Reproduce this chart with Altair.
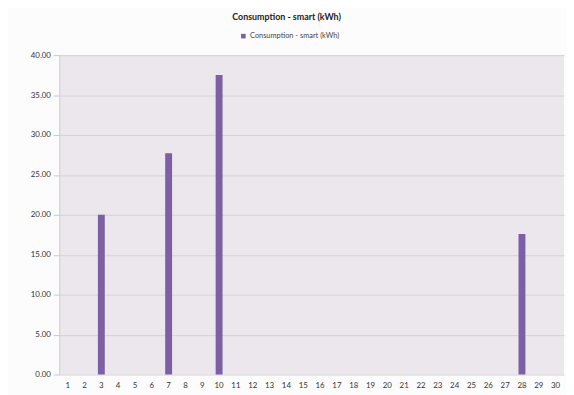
import altair as alt
import pandas as pd

days = list(range(1, 31))
consumption = [0, 0, 20.0, 0, 0, 0, 27.7, 0, 0, 37.5,
               0, 0, 0, 0, 0, 0, 0, 0, 0, 0,
               0, 0, 0, 0, 0, 0, 0, 17.6, 0, 0]
series_name = "Consumption - smart (kWh)"
y_ticks = [0, 5, 10, 15, 20, 25, 30, 35, 40]

df = pd.DataFrame({"day": days, "value": consumption, "series": series_name})

chart = alt.Chart(df).mark_bar(size=7).encode(
    x=alt.X("day:O", scale=alt.Scale(domain=days),
            axis=alt.Axis(title=None, labelAngle=0, labelFontSize=8, labelColor="#333333",
                          ticks=False, domain=False, labelPadding=7, labelFont="Lato")),
    y=alt.Y("value:Q", scale=alt.Scale(domain=[0, 40], nice=False),
            axis=alt.Axis(title=None, values=y_ticks, format=".2f", labelFontSize=8,
                          labelColor="#333333", labelFont="Lato", tickSize=6,
                          tickColor="#c8c8c8", gridColor="#d6d2d7", domainColor="#d0cdd0",
                          labelPadding=3)),
    color=alt.Color("series:N", scale=alt.Scale(range=["#7d5fa6"]),
                    legend=alt.Legend(title=None, orient="none", legendX=183, legendY=-23,
                                      symbolType="square", symbolSize=22, labelFontSize=7.5,
                                      labelFont="Lato", labelColor="#444444", padding=0,
                                      labelOffset=3, symbolStrokeWidth=0)),
).properties(
    width=512,
    height=324,
    title=alt.TitleParams(series_name, anchor="start", dx=205, offset=11, fontSize=9,
                          font="Lato", fontWeight="bold", color="#222222"),
    autosize=alt.AutoSizeParams(type="none"),
    padding={"left": 52, "top": 45, "right": 2, "bottom": 20},
    background="#fdfcfd",
).configure_view(fill="#ebe7ec", stroke=None)

chart.save("out.html", embed_options={"renderer": "svg", "actions": False})
